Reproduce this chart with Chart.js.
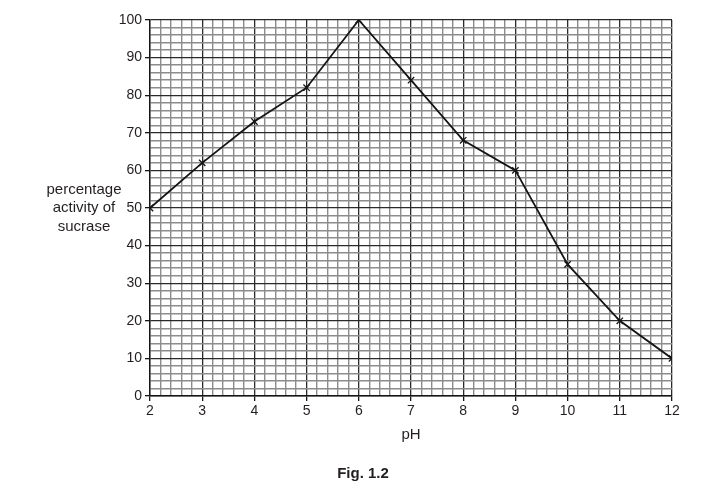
<!DOCTYPE html>
<html>
<head>
<meta charset="utf-8">
<script src="https://cdn.jsdelivr.net/npm/chart.js@4.4.1/dist/chart.umd.min.js"></script>
<style>
  html, body { margin: 0; padding: 0; background: #fff; }
  #wrap { width: 707px; height: 492px; position: relative; }
</style>
</head>
<body>
<div id="wrap"><canvas id="chart"></canvas></div>
<script>
// pH values and measured sucrase activity (%)
const phValues = [2, 3, 4, 5, 6, 7, 8, 9, 10, 11, 12]
const activity = [50, 62, 73, 82, 100, 84, 68, 60, 35, 20, 10]
const yLabelLines = ['percentage', 'activity of', 'sucrase']
const xTitle = 'pH'
const figCaption = 'Fig. 1.2'

const textColor = '#231f20'
const majorGrid = '#2a2a2a'
const minorGrid = '#8c8c8c'

const isWhole = (v, step) => Math.abs(v / step - Math.round(v / step)) < 1e-6

// Horizontal y-axis label and figure caption
const labelsPlugin = {
  id: 'labels',
  afterDraw(chart) {
    const ctx = chart.ctx
    const y = chart.scales.y
    const area = chart.chartArea
    ctx.save()
    ctx.fillStyle = textColor
    ctx.textAlign = 'center'
    ctx.textBaseline = 'middle'
    ctx.font = '15px "Liberation Sans", Arial, sans-serif'
    const mid = y.getPixelForValue(50)
    yLabelLines.forEach((line, i) => {
      ctx.fillText(line, 84, mid + (i - 1) * 18.5)
    })
    ctx.fillText(xTitle, (area.left + area.right) / 2, 435)
    ctx.font = 'bold 15px "Liberation Sans", Arial, sans-serif'
    ctx.fillText(figCaption, 363, 474)
    ctx.restore()
  }
}

new Chart(document.getElementById('chart'), {
  type: 'line',
  data: {
    datasets: [{
      data: phValues.map((x, i) => ({ x: x, y: activity[i] })),
      borderColor: '#151515',
      borderWidth: 1.8,
      pointStyle: 'crossRot',
      pointRadius: 4.5,
      pointBorderWidth: 1.3,
      pointBorderColor: '#151515',
      tension: 0,
      fill: false,
    }]
  },
  options: {
    responsive: true,
    maintainAspectRatio: false,
    animation: false,
    devicePixelRatio: 1,
    layout: {
      padding: { top: 20, right: 35, bottom: 0, left: 0 }
    },
    plugins: {
      legend: { display: false },
      tooltip: { enabled: false },
    },
    scales: {
      x: {
        type: 'linear',
        min: 2,
        max: 12,
        afterFit(scale) { scale.height = 96 },
        afterBuildTicks(scale) {
          const ticks = []
          for (let i = 0; i <= 50; i++) ticks.push({ value: 2 + i * 0.2 })
          scale.ticks = ticks
        },
        border: { display: true, color: '#151515', width: 1.4 },
        grid: {
          color: c => isWhole(c.tick.value, 1) ? majorGrid : minorGrid,
          lineWidth: c => isWhole(c.tick.value, 1) ? 1.3 : 1.4,
          tickLength: 5,
          tickColor: c => isWhole(c.tick.value, 1) ? '#151515' : 'rgba(0,0,0,0)',
        },
        ticks: {
          autoSkip: false,
          maxRotation: 0,
          padding: 2,
          color: textColor,
          font: { family: '"Liberation Sans", Arial, sans-serif', size: 14 },
          callback: v => isWhole(v, 1) ? String(Math.round(v)) : '',
        }
      },
      y: {
        min: 0,
        max: 100,
        afterFit(scale) { scale.width = 150 },
        afterBuildTicks(scale) {
          const ticks = []
          for (let i = 0; i <= 50; i++) ticks.push({ value: i * 2 })
          scale.ticks = ticks
        },
        border: { display: true, color: '#151515', width: 1.4 },
        grid: {
          color: c => isWhole(c.tick.value, 10) ? majorGrid : minorGrid,
          lineWidth: c => isWhole(c.tick.value, 10) ? 1.3 : 1.4,
          tickLength: 5,
          tickColor: c => isWhole(c.tick.value, 10) ? '#151515' : 'rgba(0,0,0,0)',
        },
        ticks: {
          autoSkip: false,
          padding: 3,
          color: textColor,
          font: { family: '"Liberation Sans", Arial, sans-serif', size: 14 },
          callback: v => isWhole(v, 10) ? String(Math.round(v)) : '',
        }
      }
    }
  },
  plugins: [labelsPlugin]
})
</script>
</body>
</html>
